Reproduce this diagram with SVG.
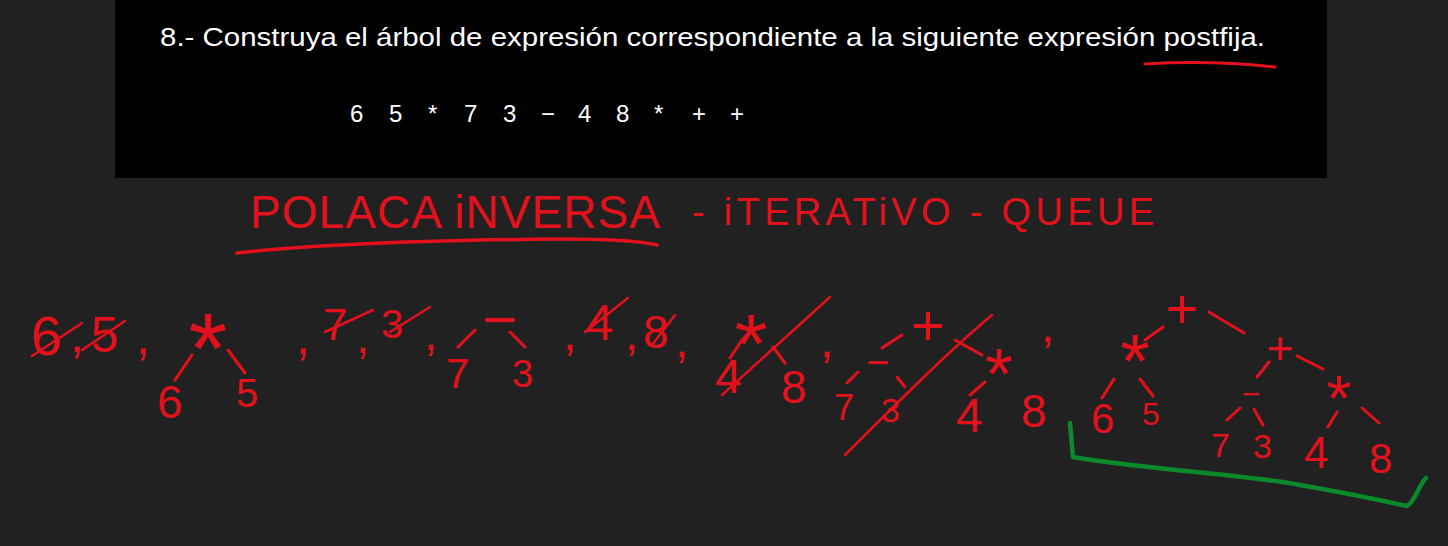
<svg xmlns="http://www.w3.org/2000/svg" width="1448" height="546" viewBox="0 0 1448 546">
<style>
.w{font-family:"Liberation Sans",Arial,sans-serif;fill:#fff}
.r{font-family:"Liberation Sans",Arial,sans-serif;fill:#e3111b}
.m{text-anchor:middle}
.e{stroke:#e3111b;stroke-width:3;stroke-linecap:round;fill:none}
.s{stroke:#e3111b;stroke-width:2.5;stroke-linecap:round;fill:none}
</style>
<rect width="1448" height="546" fill="#212121"/>
<rect x="115" y="0" width="1212" height="178" fill="#000"/>
<text class="w" x="160" y="46" font-size="25" textLength="1105" lengthAdjust="spacingAndGlyphs">8.- Construya el árbol de expresión correspondiente a la siguiente expresión postfija.</text>
<text class="w" font-size="24" y="122" x="350 389 428 464 503 541 578 616 654 692 730">65*73−48*++</text>
<path d="M1145,64 Q1210,60 1275,67" stroke="#e3111b" stroke-width="3" fill="none" stroke-linecap="round"/>

<g id="heading">
<text class="r" x="250" y="228" font-size="46" textLength="410" lengthAdjust="spacing">POLACA  iNVERSA</text>
<text class="r" x="692" y="225" font-size="38" textLength="462" lengthAdjust="spacing">- iTERATiVO - QUEUE</text>
<path d="M237,253 C330,243 450,240 560,239 C610,239 640,241 657,245" stroke="#e3111b" stroke-width="3.5" fill="none" stroke-linecap="round"/>
</g>

<g id="sequence">
<text class="r" x="31" y="355" font-size="56">6</text>
<text class="r" x="70" y="352" font-size="52">,</text>
<text class="r" x="91" y="352" font-size="50">5</text>
<text class="r" x="136" y="354" font-size="52">,</text>
<text class="r" x="296" y="354" font-size="52">,</text>
<text class="r" x="323" y="340" font-size="44">7</text>
<text class="r" x="356" y="353" font-size="48">,</text>
<text class="r" x="381" y="338" font-size="40">3</text>
<text class="r" x="424" y="350" font-size="48">,</text>
<text class="r" x="563" y="350" font-size="48">,</text>
<text class="r" x="586" y="340" font-size="50">4</text>
<text class="r" x="625" y="350" font-size="48">,</text>
<text class="r" x="643" y="348" font-size="46">8</text>
<text class="r" x="675" y="357" font-size="48">,</text>
<text class="r" x="820" y="357" font-size="48">,</text>
<text class="r" x="1041" y="342" font-size="48">,</text>
<path class="s" d="M32,356 L82,323 M82,350 L125,321 M325,332 L373,310 M390,332 L430,307 M585,332 L628,298 M652,345 L675,315"/>
</g>

<g id="tree1">
<text class="r m" x="208" y="383" font-size="100">*</text>
<text class="r" x="157" y="418" font-size="46">6</text>
<text class="r" x="236" y="407" font-size="40">5</text>
</g>
<g id="tree2">
<text class="r m" x="500" y="340" font-size="60">−</text>
<text class="r" x="446" y="388" font-size="42">7</text>
<text class="r" x="512" y="387" font-size="38">3</text>
</g>
<g id="tree3">
<text class="r m" x="751" y="373" font-size="84">*</text>
<text class="r" x="715" y="393" font-size="48">4</text>
<text class="r" x="781" y="403" font-size="46">8</text>
<path class="s" d="M722,395 L830,297"/>
</g>
<g id="tree4">
<text class="r m" x="928" y="345" font-size="58">+</text>
<text class="r m" x="878" y="376" font-size="40">−</text>
<text class="r" x="834" y="420" font-size="36">7</text>
<text class="r" x="881" y="422" font-size="34">3</text>
<text class="r m" x="999" y="399" font-size="72">*</text>
<text class="r" x="956" y="432" font-size="48">4</text>
<text class="r" x="1021" y="427" font-size="46">8</text>
<path class="s" d="M845,455 C900,400 950,350 992,315"/>
</g>
<g id="tree5">
<text class="r m" x="1182" y="328" font-size="56">+</text>
<text class="r m" x="1135" y="387" font-size="76">*</text>
<text class="r" x="1091" y="433" font-size="42">6</text>
<text class="r" x="1142" y="425" font-size="32">5</text>
<text class="r m" x="1280" y="364" font-size="46">+</text>
<text class="r m" x="1251" y="405" font-size="32">−</text>
<text class="r m" x="1339" y="421" font-size="64">*</text>
<text class="r" x="1211" y="457" font-size="34">7</text>
<text class="r" x="1253" y="458" font-size="34">3</text>
<text class="r" x="1304" y="468" font-size="44">4</text>
<text class="r" x="1369" y="473" font-size="42">8</text>
<path d="M1070,423 L1073,457 C1150,470 1250,475 1300,485 C1340,492 1380,500 1407,506 C1416,500 1418,486 1426,478" stroke="#0a8a2a" stroke-width="4.5" fill="none" stroke-linecap="round" stroke-linejoin="round"/>
</g>

<g id="connectors">
<path class="e" d="M175,380 L192,355 M228,350 L245,373"/>
<path class="e" d="M458,347 L475,330 M510,332 L525,347"/>
<path class="e" d="M730,358 L742,340 M773,347 L785,363"/>
<path class="e" d="M882,348 L902,335 M847,383 L858,372 M897,377 L905,387 M955,340 L982,355 M970,395 L985,382"/>
<path class="e" d="M1145,340 L1163,327 M1209,312 L1244,333 M1102,398 L1114,379 M1140,379 L1153,396 M1257,377 L1269,362 M1297,356 L1323,369 M1227,420 L1240,408 M1254,409 L1263,425 M1328,427 L1337,412 M1362,408 L1379,423"/>
</g>
</svg>
